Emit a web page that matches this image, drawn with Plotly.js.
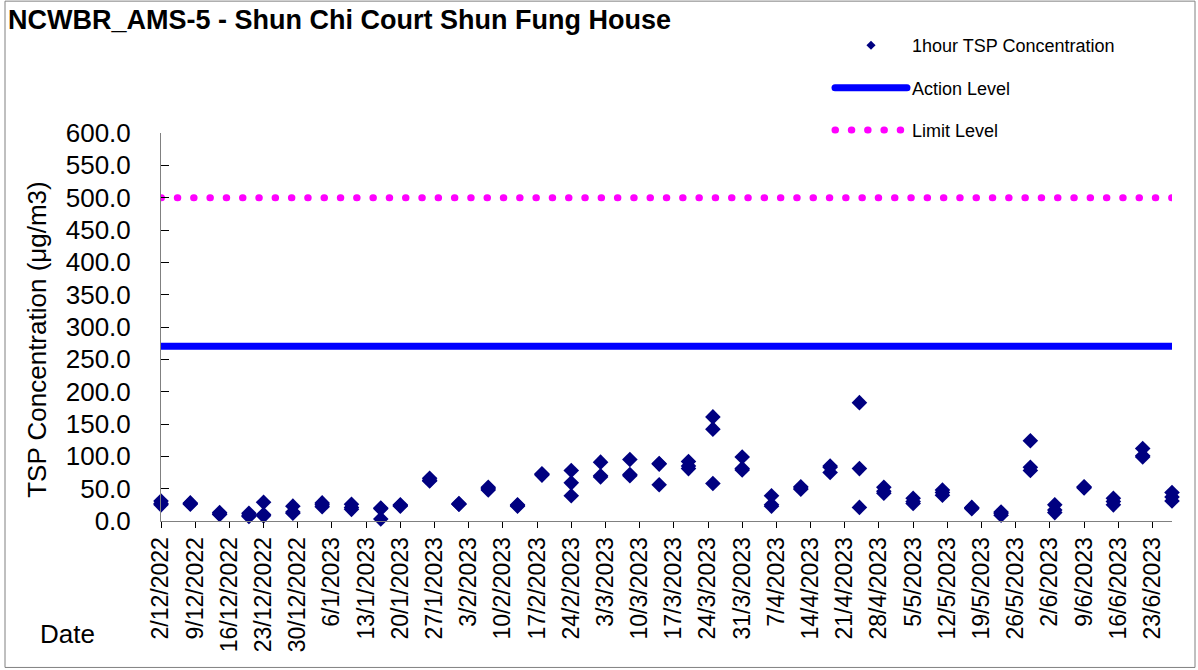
<!DOCTYPE html>
<html><head><meta charset="utf-8">
<script src="https://cdn.plot.ly/plotly-3.0.1.min.js"></script>
<style>
html,body{margin:0;padding:0;background:#fff;}
#chart{width:1198px;height:670px;}
.js-line{stroke-linecap:round;}
</style></head><body><div id="chart"></div><script>
// Sampling dates (measured every ~6 days) and three 1-hour TSP readings per date
const sampleDates = ['2022-12-02','2022-12-08','2022-12-14','2022-12-20','2022-12-23','2022-12-29',
  '2023-01-04','2023-01-10','2023-01-16','2023-01-20','2023-01-26','2023-02-01','2023-02-07',
  '2023-02-13','2023-02-18','2023-02-24','2023-03-02','2023-03-08','2023-03-14','2023-03-20',
  '2023-03-25','2023-03-31','2023-04-06','2023-04-12','2023-04-18','2023-04-24','2023-04-29',
  '2023-05-05','2023-05-11','2023-05-17','2023-05-23','2023-05-29','2023-06-03','2023-06-09',
  '2023-06-15','2023-06-21','2023-06-27'];
const tspReading1 = [31,28,13,12,29,23,28,26,20,25,66,27,52,25,73,78,91,95,89,92,161,99,39,53,85,183,52,35,48,21,14,124,25,53,35,112,44];
const tspReading2 = [27,27,11,9,10,14,25,21,19,24,63,26,50,24,72,59,70,72,88,85,142,81,25,51,83,81,46,30,44,20,12,83,17,52,30,101,37];
const tspReading3 = [25,26,10,7,8,12,22,18,3,23,62,26,48,23,71,39,68,70,56,81,58,79,23,49,75,21,43,27,40,19,9,78,13,51,25,99,31];
const actionLevel = 270.1;
const limitLevel = 500;
const tickLabels = ['2/12/2022','9/12/2022','16/12/2022','23/12/2022','30/12/2022','6/1/2023','13/1/2023',
  '20/1/2023','27/1/2023','3/2/2023','10/2/2023','17/2/2023','24/2/2023','3/3/2023','10/3/2023',
  '17/3/2023','24/3/2023','31/3/2023','7/4/2023','14/4/2023','21/4/2023','28/4/2023','5/5/2023',
  '12/5/2023','19/5/2023','26/5/2023','2/6/2023','9/6/2023','16/6/2023','23/6/2023'];

const tickVals = tickLabels.map(s => { const [d,m,y] = s.split('/'); return y + '-' + m.padStart(2,'0') + '-' + d.padStart(2,'0'); });
const xs = [], ys = [];
sampleDates.forEach((d,i) => { [tspReading1[i], tspReading2[i], tspReading3[i]].forEach(v => { xs.push(d); ys.push(v); }); });
const xStart = sampleDates[0], xEnd = sampleDates[sampleDates.length-1];
const FONT = 'Liberation Sans, Arial, sans-serif';
const L = 161, T = 133, PW = 1011, PH = 388.4;
const px = x => (x - L) / PW, py = y => (T + PH - y) / PH;

const traces = [
  {x: xs, y: ys, type: 'scatter', mode: 'markers', name: '1hour TSP Concentration', showlegend: false,
   cliponaxis: false, marker: {symbol: 'diamond', size: 12, color: '#000080'}, legendgroup: 'a'},
  {x: [null], y: [null], type: 'scatter', mode: 'markers', name: '1hour TSP Concentration',
   marker: {symbol: 'diamond', size: 7, color: '#000080'}, legendgroup: 'a'},
  {x: [xStart, xEnd], y: [actionLevel, actionLevel], type: 'scatter', mode: 'lines', name: 'Action Level',
   line: {color: '#0000FF', width: 7}, legendgroup: 'b'},
  {x: [xStart, xEnd], y: [limitLevel, limitLevel], type: 'scatter', mode: 'lines', name: 'Limit Level',
   line: {color: '#FF00FF', width: 7, dash: '0.5px,15.8px'}, legendgroup: 'c'}
];

const layout = {
  width: 1198, height: 670,
  margin: {l: L, r: 1198 - L - PW, t: T, b: 670 - T - PH, autoexpand: false},
  paper_bgcolor: '#fff', plot_bgcolor: '#fff',
  font: {family: FONT, color: '#000'},
  title: {text: 'NCWBR_AMS-5 - Shun Chi Court Shun Fung House', x: 8/1198, xref: 'container', xanchor: 'left',
          y: 1 - 10/670, yref: 'container', yanchor: 'top', font: {family: FONT, size: 27, weight: 700, color: '#000'}},
  showlegend: true,
  legend: {xref: 'paper', yref: 'paper', x: px(830), y: py(27), xanchor: 'left', yanchor: 'top',
           bgcolor: 'rgba(0,0,0,0)', font: {family: FONT, size: 18, color: '#000'}, itemwidth: 72,
           tracegroupgap: 16, traceorder: 'grouped'},
  xaxis: {type: 'date', range: [xStart, xEnd], tickmode: 'array', tickvals: tickVals, ticktext: tickLabels,
          tickangle: -90, ticks: 'outside', ticklen: 6, tickcolor: '#000', tickwidth: 1,
          showline: true, linecolor: '#808080', linewidth: 1, showgrid: false, zeroline: false,
          tickfont: {family: FONT, size: 23, color: '#000'}},
  xaxis2: {type: 'date', overlaying: 'x', anchor: 'y', side: 'bottom', range: [xStart, xEnd], tickmode: 'array',
           tickvals: tickVals, ticks: 'inside', ticklen: 6, tickcolor: '#000', showticklabels: false,
           showline: false, showgrid: false, zeroline: false},
  yaxis: {range: [0, 600], tickmode: 'linear', tick0: 0, dtick: 50, tickformat: '.1f', ticks: 'inside', ticklen: 8,
          tickcolor: '#000', showline: true, linecolor: '#808080', linewidth: 1, showgrid: false, zeroline: false,
          ticklabelstandoff: 24, tickfont: {family: FONT, size: 26, color: '#000'}},
  annotations: [
    {text: 'TSP Concentration (μg/m3)', xref: 'paper', yref: 'paper', x: px(37), y: py(340),
     xanchor: 'center', yanchor: 'middle',
     textangle: -90, showarrow: false, font: {family: FONT, size: 26, color: '#000'}},
    {text: 'Date', xref: 'paper', yref: 'paper', x: px(67), y: py(635), xanchor: 'center', yanchor: 'middle',
     showarrow: false, font: {family: FONT, size: 26, color: '#000'}}
  ],
  shapes: [
    {type: 'rect', xref: 'paper', yref: 'paper', x0: px(5), x1: px(1195),
     y0: py(668), y1: py(1), line: {color: '#808080', width: 1}}
  ]
};
Plotly.newPlot('chart', traces, layout, {displayModeBar: false, staticPlot: true});
</script></body></html>
